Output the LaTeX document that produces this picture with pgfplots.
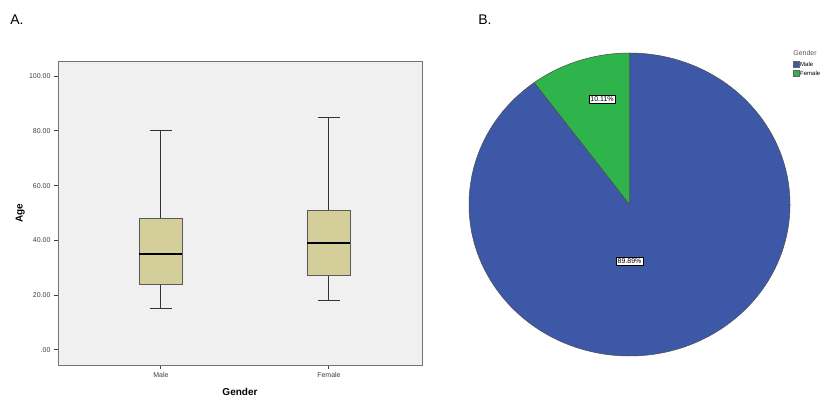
\documentclass[border=0pt]{standalone}
\usepackage{fontspec}
\setmainfont{Liberation Sans}
\usepackage{pgfplots}
\pgfplotsset{compat=1.18}
\definecolor{boxfill}{RGB}{212,207,154}
\definecolor{bgc}{RGB}{240,240,240}
\definecolor{malec}{RGB}{62,88,168}
\definecolor{femalec}{RGB}{46,180,74}
\def\pmale{89.89}
\def\pfemale{10.11}
\begin{document}
\begin{tikzpicture}
\path[use as bounding box] (0pt,0pt) rectangle (833pt,402pt);
\node[anchor=center, font=\fontsize{14}{16}\selectfont] at (17pt,382pt) {A.};
\node[anchor=center, font=\fontsize{14}{16}\selectfont] at (485pt,382pt) {B.};
\begin{axis}[at={(58pt,37pt)}, anchor=south west, scale only axis, width=364pt, height=304pt,
  xmin=0.387, xmax=2.554, ymin=-5.5, ymax=105.5,
  axis background/.style={fill=bgc},
  axis line style={draw=black!55, line width=0.8pt},
  xtick={1,2}, xticklabels={Male,Female},
  ytick={0,20,40,60,80,100}, yticklabels={.00,20.00,40.00,60.00,80.00,100.00},
  tick align=outside, tick pos=left, major tick length=4pt,
  tick style={black!75, line width=1pt},
  ticklabel style={font=\fontsize{7}{8}\selectfont, text=black!75},
  xlabel={Gender}, ylabel={Age},
  label style={font=\fontsize{10}{12}\selectfont\bfseries},
  xlabel style={at={(axis description cs:0.5,-0.089)}, anchor=center},
  ylabel style={at={(axis description cs:-0.104,0.5)}, anchor=center},
  wk/.style={draw=black!80, line width=1pt, solid, mark=none},
]
% Male: whiskers 15-80, quartiles 24-48, median 35
\addplot[wk] coordinates {(1,15) (1,24)};
\addplot[wk] coordinates {(1,48) (1,80)};
\addplot[wk] coordinates {(0.935,15) (1.065,15)};
\addplot[wk] coordinates {(0.935,80) (1.065,80)};
\addplot[wk, draw=black!65, fill=boxfill] coordinates {(0.872,24) (1.128,24) (1.128,48) (0.872,48) (0.872,24)};
\addplot[wk, line width=1.6pt, draw=black] coordinates {(0.872,35) (1.128,35)};
% Female: whiskers 18-85, quartiles 27-51, median 39
\addplot[wk] coordinates {(2,18) (2,27)};
\addplot[wk] coordinates {(2,51) (2,85)};
\addplot[wk] coordinates {(1.935,18) (2.065,18)};
\addplot[wk] coordinates {(1.935,85) (2.065,85)};
\addplot[wk, draw=black!65, fill=boxfill] coordinates {(1.872,27) (2.128,27) (2.128,51) (1.872,51) (1.872,27)};
\addplot[wk, line width=1.6pt, draw=black] coordinates {(1.872,39) (2.128,39)};
\end{axis}
\begin{axis}[at={(629.5pt,197.5pt)}, anchor=center, scale only axis, width=321pt, height=303pt,
  xmin=-1, xmax=1, ymin=-1, ymax=1, hide axis, clip=false]
\pgfmathsetmacro\angf{90+3.6*\pfemale}
\filldraw[fill=malec, draw=black!70, line width=0.5pt] (axis cs:0,0) -- (axis cs:{cos(\angf)},{sin(\angf)})
  arc[start angle=\angf, end angle=450, x radius=160.5pt, y radius=151.5pt] -- cycle;
\filldraw[fill=femalec, draw=black!70, line width=0.5pt] (axis cs:0,0) -- (axis cs:0,1)
  arc[start angle=90, end angle=\angf, x radius=160.5pt, y radius=151.5pt] -- cycle;
\node[draw=black, fill=white, font=\fontsize{7}{8}\selectfont, inner sep=1.5pt, line width=0.6pt] at (axis cs:-0.171,0.696) {\pfemale\%};
\node[draw=black, fill=white, font=\fontsize{7}{8}\selectfont, inner sep=1.5pt, line width=0.6pt] at (axis cs:0,-0.373) {\pmale\%};
\end{axis}
\node[font=\fontsize{7}{8}\selectfont, text=black!65] at (805pt,349pt) {Gender};
\filldraw[fill=malec, draw=black!60, line width=0.3pt] (793pt,335pt) rectangle (799pt,341pt);
\filldraw[fill=femalec, draw=black!60, line width=0.3pt] (793pt,326pt) rectangle (799pt,332pt);
\node[anchor=west, font=\fontsize{6}{7}\selectfont, inner sep=0.5pt] at (799.5pt,338pt) {Male};
\node[anchor=west, font=\fontsize{6}{7}\selectfont, inner sep=0.5pt] at (799.5pt,329pt) {Female};
\end{tikzpicture}
\end{document}
